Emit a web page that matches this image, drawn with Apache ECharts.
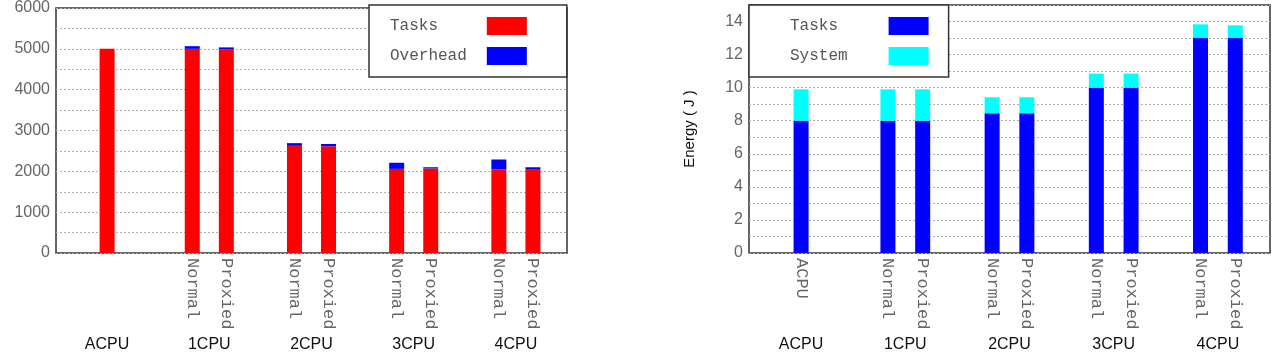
<!DOCTYPE html>
<html>
<head>
<meta charset="utf-8">
<script src="https://cdn.jsdelivr.net/npm/echarts@6/dist/echarts.min.js"></script>
<style>
html, body { margin: 0; padding: 0; background: #fff; }
#chart { width: 1276px; height: 361px; }
</style>
</head>
<body>
<div id="chart"></div>
<script>
// x positions in slots (plot spans 0..15 slots, axis ticks every half slot)
const groupNames = ["ACPU", "1CPU", "2CPU", "3CPU", "4CPU"];
const groupPos = [1.5, 4.5, 7.5, 10.5, 13.5];
const barPos = [1.5, 4, 5, 7, 8, 10, 11, 13, 14];
const barNamesTime = ["", "Normal", "Proxied", "Normal", "Proxied", "Normal", "Proxied", "Normal", "Proxied"];
const barNamesEnergy = ["ACPU", "Normal", "Proxied", "Normal", "Proxied", "Normal", "Proxied", "Normal", "Proxied"];

const timeTasks = [5000, 5000, 4990, 2625, 2615, 2060, 2070, 2045, 2040];
const timeOverhead = [0, 65, 45, 65, 55, 150, 30, 245, 60];
const energyTasks = [8, 8, 8, 8.45, 8.45, 10, 10, 13, 13];
const energySystem = [1.9, 1.9, 1.9, 0.97, 0.97, 0.85, 0.85, 0.83, 0.77];

const mono = "Liberation Mono";
const sans = "Liberation Sans";
const SLOTS = 15;

const chart = echarts.init(document.getElementById("chart"));

// half-slot ticks 0..30 as category axis (no boundary gap)
const ticks = [];
for (let i = 0; i <= SLOTS * 2; i++) ticks.push(String(i));

const pairs = (vals) => vals.map((v, i) => [barPos[i] * 2, v]);
const labelAt = (list, pos) => (value, index) => {
    const i = pos.indexOf(index / 2);
    return i >= 0 ? list[i] : "";
};

const legendText = {
    "t_tasks": "Tasks   ",
    "t_over": "Overhead",
    "e_tasks": "Tasks ",
    "e_sys": "System"
};

function xAxes(gridIndex, names) {
    return [
        {
            type: "category", gridIndex: gridIndex, data: ticks, boundaryGap: false,
            axisLine: { show: false }, axisTick: { show: false }, splitLine: { show: false },
            axisLabel: {
                interval: 0, rotate: -90, margin: 5, fontFamily: mono, fontSize: 17, color: "#666",
                formatter: labelAt(names, barPos)
            }
        },
        {
            type: "category", gridIndex: gridIndex, data: ticks, boundaryGap: false,
            position: "bottom", offset: 78,
            axisLine: { show: false }, axisTick: { show: false }, splitLine: { show: false },
            axisLabel: {
                interval: 0, margin: 6, fontFamily: sans, fontSize: 16, color: "#111",
                formatter: labelAt(groupNames, groupPos)
            }
        }
    ];
}

const gridLine = { show: true, lineStyle: { color: "#b0b0b0", type: [2, 2], width: 1 } };
const yLabel = { fontFamily: sans, fontSize: 16, color: "#666", margin: 6 };

const legendBase = {
    orient: "vertical", align: "right", icon: "rect",
    itemWidth: 40, itemHeight: 18, itemGap: 12,
    backgroundColor: "#fff", borderColor: "#333", borderWidth: 1.5,
    selectedMode: false,
    formatter: (name) => legendText[name],
    textStyle: { fontFamily: mono, fontSize: 16, color: "#555" }
};

const option = {
    animation: false,
    grid: [
        { left: 56, top: 5, width: 511, height: 248, show: true, borderColor: "#333", borderWidth: 1.5 },
        { left: 749, top: 5, width: 521, height: 248, show: true, borderColor: "#333", borderWidth: 1.5 }
    ],
    xAxis: xAxes(0, barNamesTime).concat(xAxes(1, barNamesEnergy)),
    yAxis: [
        {
            type: "value", gridIndex: 0, min: 0, max: 6000, interval: 500,
            axisLine: { show: false }, axisTick: { show: false }, splitLine: gridLine,
            axisLabel: Object.assign({}, yLabel, { formatter: (v) => (v % 1000 === 0 ? v : "") })
        },
        {
            type: "value", gridIndex: 1, min: 0, max: 15, interval: 1,
            axisLine: { show: false }, axisTick: { show: false }, splitLine: gridLine,
            axisLabel: Object.assign({}, yLabel, { formatter: (v) => (v % 2 === 0 ? v : "") }),
            name: "Energy ( J )", nameLocation: "middle", nameGap: 52, nameRotate: 90,
            nameTextStyle: { fontFamily: sans, fontSize: 15, color: "#111" }
        }
    ],
    legend: [
        Object.assign({}, legendBase, {
            left: 369, top: 5, padding: [12, 40, 12, 21],
            data: ["t_tasks", "t_over"],
            textStyle: Object.assign({}, legendBase.textStyle, { padding: [0, 15, 0, 0] })
        }),
        Object.assign({}, legendBase, {
            left: 749, top: 5, padding: [12, 20, 12, 41],
            data: ["e_tasks", "e_sys"],
            textStyle: Object.assign({}, legendBase.textStyle, { padding: [0, 36, 0, 0] })
        })
    ],
    series: [
        { name: "t_tasks", type: "bar", stack: "t", xAxisIndex: 0, yAxisIndex: 0, barWidth: 15,
          itemStyle: { color: "#ff0000" }, data: pairs(timeTasks) },
        { name: "t_over", type: "bar", stack: "t", xAxisIndex: 0, yAxisIndex: 0, barWidth: 15,
          itemStyle: { color: "#0000ff" }, data: pairs(timeOverhead) },
        { name: "e_tasks", type: "bar", stack: "e", xAxisIndex: 2, yAxisIndex: 1, barWidth: 15,
          itemStyle: { color: "#0000ff" }, data: pairs(energyTasks) },
        { name: "e_sys", type: "bar", stack: "e", xAxisIndex: 2, yAxisIndex: 1, barWidth: 15,
          itemStyle: { color: "#00ffff" }, data: pairs(energySystem) }
    ]
};

chart.setOption(option);
</script>
</body>
</html>
